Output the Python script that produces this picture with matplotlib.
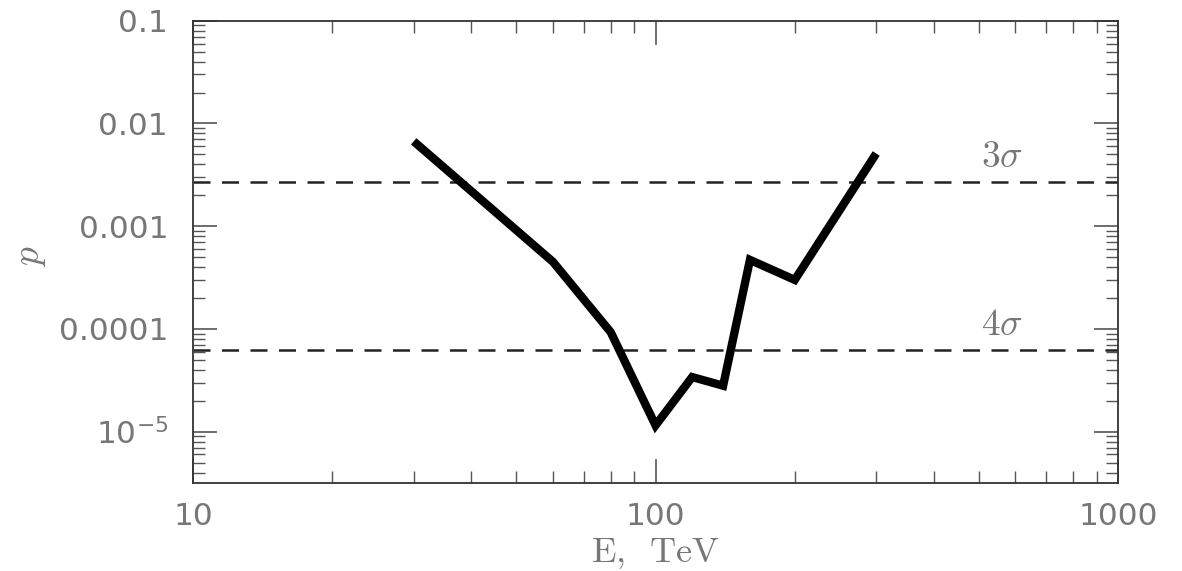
import numpy as np
import matplotlib
matplotlib.use('Agg')
import matplotlib.pyplot as plt
from matplotlib.ticker import LogLocator, FixedLocator, FixedFormatter, NullFormatter

plt.rcParams['mathtext.fontset'] = 'cm'
plt.rcParams['font.family'] = 'DejaVu Sans'

# -----------------------------------------------------------------------------
# data

E = [30, 60, 80, 100, 120, 140, 160, 200, 300]          # TeV
p = [6.7e-3, 4.5e-4, 9.3e-5, 1.15e-5, 3.4e-5, 2.8e-5, 4.7e-4, 3.0e-4, 5.1e-3]

sigma_p = [2.7e-3, 6.3e-5]
sigma_names = [r'$3\sigma$', r'$4\sigma$']
sigma_label_x = 560

y_ticks = [1e-5, 1e-4, 1e-3, 1e-2, 1e-1]
y_tick_labels = [r'$\mathregular{10^{-5}}$', '0.0001', '0.001', '0.01', '0.1']
x_ticks = [10, 100, 1000]
x_tick_labels = ['10', '100', '1000']

# -----------------------------------------------------------------------------

txt_color = '#777777'

fig = plt.figure(figsize=(11.82, 5.71), dpi=100)
ax = fig.add_axes([0.1633, 0.1541, 0.7826, 0.8096])

for yv in sigma_p:
    ax.axhline(yv, color='#222222', linewidth=1.8, dashes=(6.8, 4.6))

ax.plot(E, p, color='black', linewidth=6, solid_joinstyle='miter',
        solid_capstyle='butt')

for yv, name in zip(sigma_p, sigma_names):
    ax.annotate(name, (sigma_label_x, yv), xytext=(0, 5), textcoords='offset points',
                ha='center', va='bottom', fontsize=27, color=txt_color)

ax.set_xscale('log')
ax.set_yscale('log')
ax.set_xlim(10, 1000)
ax.set_ylim(10**-5.5, 0.1)

ax.xaxis.set_major_locator(FixedLocator(x_ticks))
ax.xaxis.set_major_formatter(FixedFormatter(x_tick_labels))
ax.xaxis.set_minor_locator(LogLocator(base=10, subs=np.arange(2, 10)))
ax.xaxis.set_minor_formatter(NullFormatter())
ax.yaxis.set_major_locator(FixedLocator(y_ticks))
ax.yaxis.set_major_formatter(FixedFormatter(y_tick_labels))
ax.yaxis.set_minor_locator(LogLocator(base=10, subs=np.arange(2, 10), numticks=20))
ax.yaxis.set_minor_formatter(NullFormatter())

ax.tick_params(which='both', direction='in', top=True, right=True,
               color='#555555', labelcolor=txt_color, labelsize=22.5)
ax.tick_params(which='major', length=17, width=1.2)
ax.tick_params(which='minor', length=8.5, width=1.0)
ax.tick_params(axis='y', which='major', pad=18)
ax.tick_params(axis='x', which='major', pad=14)

for s in ax.spines.values():
    s.set_color('#333333')
    s.set_linewidth(1.3)

ax.set_xlabel(r'$\mathrm{E,\;\;TeV}$', fontsize=26, color=txt_color)
ax.set_ylabel(r'$p$', fontsize=27, color=txt_color)
ax.xaxis.label.set_va('center')
ax.yaxis.label.set_va('center')
ax.xaxis.set_label_coords(0.5, -0.153)
ax.yaxis.set_label_coords(-0.176, 0.49)

plt.savefig('out.png', dpi=100)
